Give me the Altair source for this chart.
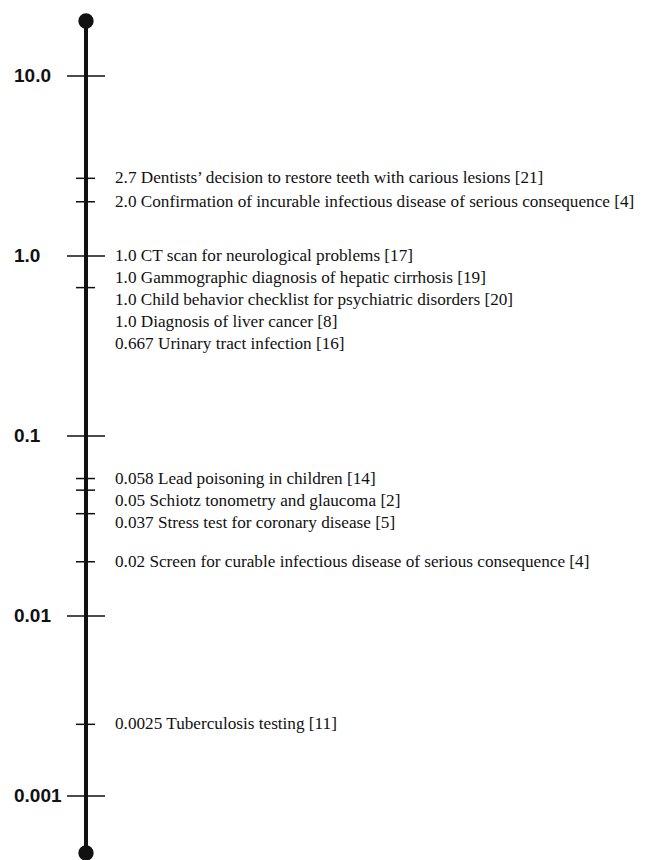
import math
import altair as alt
import pandas as pd

# ---- data ----
AXIS_MIN = 0.000482
AXIS_MAX = 20.2
MAJOR_VALUES = [10, 1, 0.1, 0.01, 0.001]
MAJOR_LABELS = ["10.0", "1.0", "0.1", "0.01", "0.001"]
ITEM_VALUES = [2.7, 2.0, 1.0, 1.0, 1.0, 1.0, 0.667, 0.058, 0.05, 0.037, 0.02, 0.0025]
ITEM_VALUE_LABELS = ["2.7", "2.0", "1.0", "1.0", "1.0", "1.0", "0.667",
                     "0.058", "0.05", "0.037", "0.02", "0.0025"]
ITEM_TEXTS = [
    "Dentists\u2019 decision to restore teeth with carious lesions [21]",
    "Confirmation of incurable infectious disease of serious consequence [4]",
    "CT scan for neurological problems [17]",
    "Gammographic diagnosis of hepatic cirrhosis [19]",
    "Child behavior checklist for psychiatric disorders [20]",
    "Diagnosis of liver cancer [8]",
    "Urinary tract infection [16]",
    "Lead poisoning in children [14]",
    "Schiotz tonometry and glaucoma [2]",
    "Stress test for coronary disease [5]",
    "Screen for curable infectious disease of serious consequence [4]",
    "Tuberculosis testing [11]",
]

# ---- layout constants ----
W, H = 634, 832
LINE_PX = 22
AXIS_X = 78

px_per_dec = H / math.log10(AXIS_MAX / AXIS_MIN)
line_dec = LINE_PX / px_per_dec

# greedy de-overlap of labels (in log units, going downward)
label_pos = []
prev = None
for v in ITEM_VALUES:
    t = -math.log10(v)
    if prev is not None and t < prev + line_dec:
        t = prev + line_dec
    label_pos.append(t)
    prev = t

items = pd.DataFrame({
    "v": ITEM_VALUES,
    "label": [f"{a} {b}" for a, b in zip(ITEM_VALUE_LABELS, ITEM_TEXTS)],
    "lv": [10 ** (-t) for t in label_pos],
})
majors = pd.DataFrame({"v": MAJOR_VALUES, "label": MAJOR_LABELS})
minors = pd.DataFrame({"v": sorted(set(v for v in ITEM_VALUES if v not in MAJOR_VALUES))})
ends = pd.DataFrame({"v": [AXIS_MIN, AXIS_MAX]})
span = pd.DataFrame({"lo": [AXIS_MIN], "hi": [AXIS_MAX]})

ys = alt.Scale(type="log", domain=[AXIS_MIN, AXIS_MAX])
INK = "#111111"
SERIF = "'Liberation Serif', 'Times New Roman', Times, 'DejaVu Serif', serif"

axis_line = alt.Chart(span).mark_rule(strokeWidth=4, color=INK).encode(
    x=alt.value(AXIS_X),
    y=alt.Y("lo:Q", scale=ys, axis=None),
    y2="hi:Q",
)
dots = alt.Chart(ends).mark_circle(size=235, color=INK, opacity=1).encode(
    x=alt.value(AXIS_X),
    y=alt.Y("v:Q", scale=ys, axis=None),
)
major_ticks = alt.Chart(majors).mark_rule(strokeWidth=1.5, color=INK).encode(
    x=alt.value(AXIS_X - 19), x2=alt.value(AXIS_X + 19),
    y=alt.Y("v:Q", scale=ys, axis=None),
)
minor_ticks = alt.Chart(minors).mark_rule(strokeWidth=1.5, color=INK).encode(
    x=alt.value(AXIS_X - 10), x2=alt.value(AXIS_X + 9),
    y=alt.Y("v:Q", scale=ys, axis=None),
)
major_text = alt.Chart(majors).mark_text(
    align="left", baseline="middle", font="'Liberation Sans', Arial, sans-serif",
    fontWeight="bold", fontSize=19, color=INK,
).encode(
    x=alt.value(6),
    y=alt.Y("v:Q", scale=ys, axis=None),
    text="label:N",
)
item_text = alt.Chart(items).mark_text(
    align="left", baseline="middle", font=SERIF, fontSize=17.2, color=INK,
).encode(
    x=alt.value(AXIS_X + 29),
    y=alt.Y("lv:Q", scale=ys, axis=None),
    text="label:N",
)

chart = alt.layer(
    axis_line, major_ticks, minor_ticks, dots, major_text, item_text
).properties(
    width=W, height=H,
    padding={"left": 0, "top": 13, "right": 0, "bottom": 10},
    autosize=alt.AutoSizeParams(type="none"),
    background="white",
).configure_view(stroke=None)

chart.save("out.html", embed_options={"renderer": "svg", "actions": False})
